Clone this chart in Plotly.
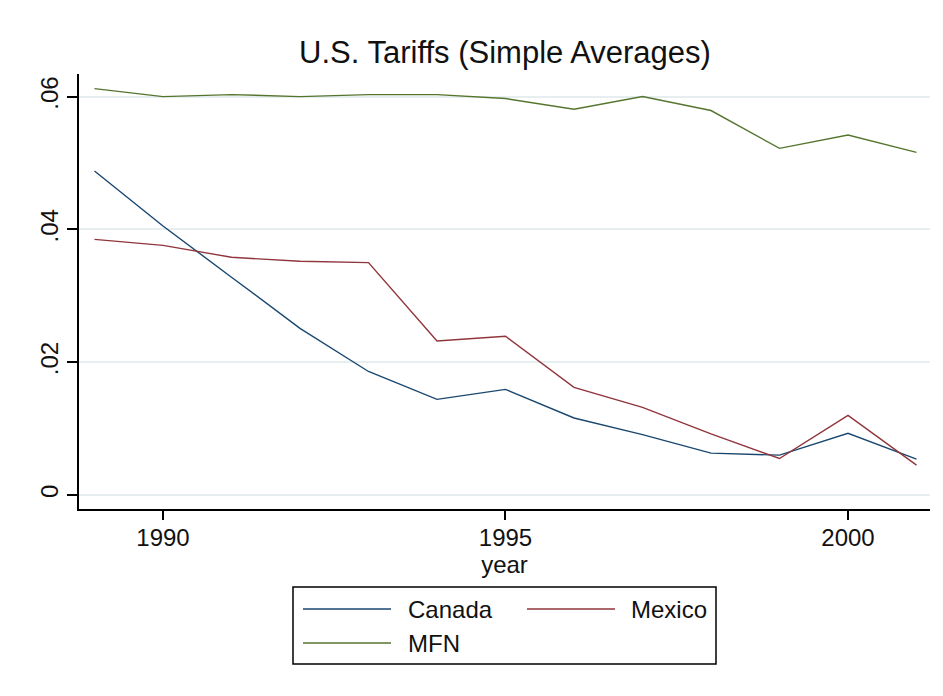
import plotly.graph_objects as go

# data
years = [1989, 1990, 1991, 1992, 1993, 1994, 1995, 1996, 1997, 1998, 1999, 2000, 2001]
canada = [0.0488, 0.0405, 0.0328, 0.0251, 0.0186, 0.0144, 0.0159, 0.0116, 0.0091, 0.0063, 0.0060, 0.0093, 0.0054]
mexico = [0.0385, 0.0376, 0.0358, 0.0352, 0.0350, 0.0232, 0.0239, 0.0162, 0.0132, 0.0092, 0.0055, 0.0120, 0.0045]
mfn = [0.0612, 0.0600, 0.0603, 0.0600, 0.0603, 0.0603, 0.0597, 0.0581, 0.0600, 0.0579, 0.0522, 0.0542, 0.0516]

series_names = ["Canada", "Mexico", "MFN"]
series_colors = ["#1a476f", "#90353b", "#55752f"]

x_ticks = [1990, 1995, 2000]
y_ticks = [0, 0.02, 0.04, 0.06]
y_ticktext = ["0", ".02", ".04", ".06"]

# the page body has an 8px margin, so the figure is drawn 8px in
OFF = 8
W, H = 943 - 2 * OFF, 696 - 2 * OFF
# plot area in window pixels
L, R, T, B = 79, 930, 74, 509


def px(x):
    return (x - L) / (R - L)


def py(y):
    return (B - y) / (B - T)


fig = go.Figure()
for name, vals, col in zip(series_names, [canada, mexico, mfn], series_colors):
    fig.add_trace(
        go.Scatter(
            x=years,
            y=vals,
            mode="lines",
            name=name,
            line=dict(color=col, width=1.4),
            showlegend=False,
        )
    )

font = dict(family="Arial, Liberation Sans, sans-serif", size=24, color="#111111")

# hand-drawn Stata style legend
shapes = [
    dict(type="rect", xref="paper", yref="paper",
         x0=px(293), x1=px(716), y0=py(587), y1=py(664),
         line=dict(color="black", width=1.5), fillcolor="white"),
]
legend_pos = [(303, 609), (527, 609), (303, 643)]
text_pos = [(406, 609), (629, 609), (406, 643)]
annotations = []
for name, col, (lx, ly), (tx, ty) in zip(series_names, series_colors, legend_pos, text_pos):
    shapes.append(dict(type="line", xref="paper", yref="paper",
                       x0=px(lx), x1=px(lx + 88), y0=py(ly), y1=py(ly),
                       line=dict(color=col, width=1.5)))
    annotations.append(dict(xref="paper", yref="paper", x=px(tx), y=py(ty),
                            text=name, showarrow=False, xanchor="left",
                            yanchor="middle", font=font))

fig.update_layout(
    width=W,
    height=H,
    margin=dict(l=L - OFF, r=W + OFF - R, t=T - OFF, b=H + OFF - B),
    paper_bgcolor="white",
    plot_bgcolor="white",
    title=dict(
        text="U.S. Tariffs (Simple Averages)",
        x=px(505), xref="paper",
        y=1 - (52 - OFF) / H, yref="container",
        xanchor="center", yanchor="middle",
        font=dict(family="Arial, Liberation Sans, sans-serif", size=31, color="#111111"),
    ),
    shapes=shapes,
    annotations=annotations,
    xaxis=dict(
        range=[1988.774, 2001.197],
        tickvals=x_ticks,
        ticks="outside", ticklen=9, tickwidth=1.5, tickcolor="black",
        showline=True, linecolor="black", linewidth=1.5,
        showgrid=False, zeroline=False,
        tickfont=font,
        ticklabelstandoff=-3,
        title=dict(text="year", font=font, standoff=0),
    ),
    yaxis=dict(
        range=[-0.00211, 0.0634],
        tickvals=y_ticks, ticktext=y_ticktext,
        tickangle=-90,
        ticks="outside", ticklen=10, tickwidth=1.5, tickcolor="black",
        showline=True, linecolor="black", linewidth=1.5,
        showgrid=True, gridcolor="#e6eef0", gridwidth=1.5,
        zeroline=False,
        tickfont=font,
    ),
)

fig.write_html("out.html")
